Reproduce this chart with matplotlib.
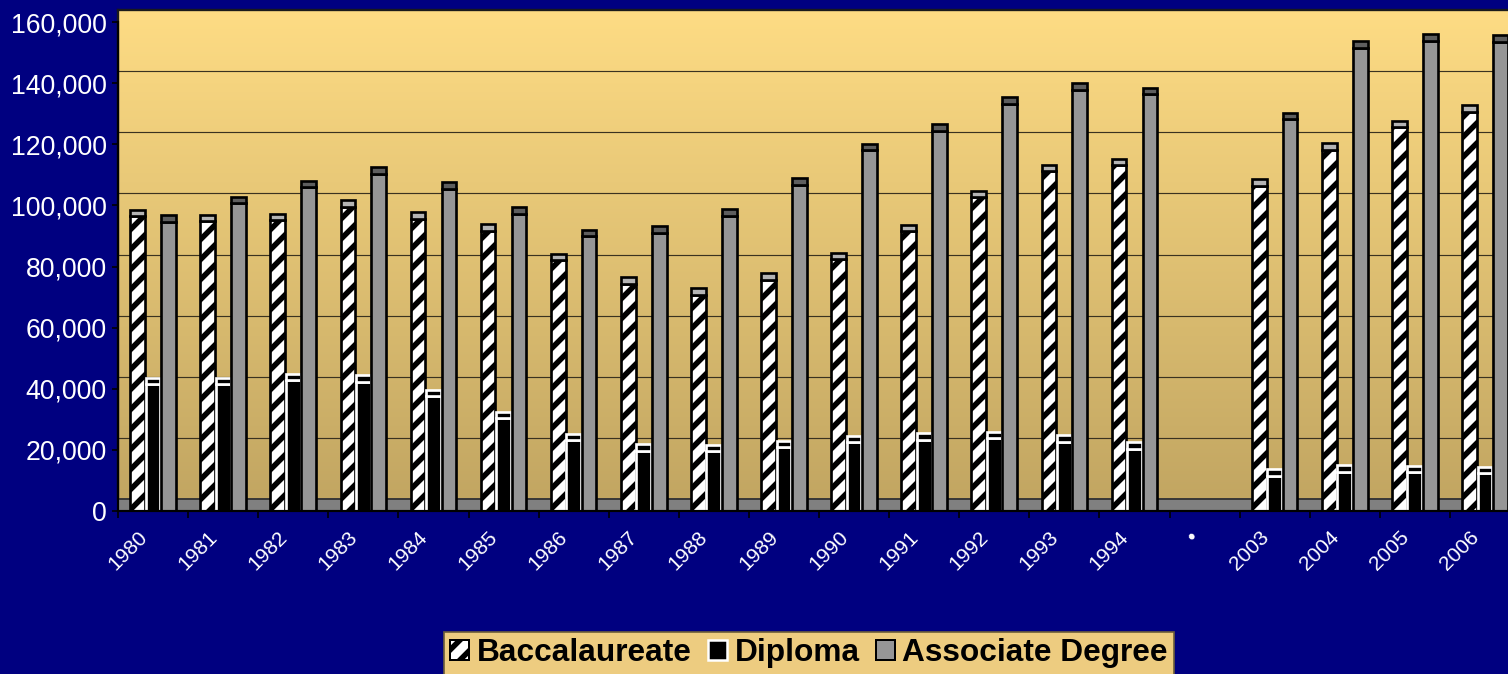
import numpy as np
import matplotlib.pyplot as plt
from matplotlib.patches import Patch
from matplotlib import transforms

# data
years = ["1980", "1981", "1982", "1983", "1984", "1985", "1986", "1987", "1988", "1989",
         "1990", "1991", "1992", "1993", "1994", "\u2022", "2003", "2004", "2005", "2006"]
nan = np.nan
bacc = [96500, 94800, 95200, 99600, 95600, 91700, 82100, 74300, 70800, 75600,
        82300, 91500, 102700, 111200, 113100, nan, 106400, 118200, 125500, 130600]
diploma = [41400, 41400, 42700, 42300, 37600, 30400, 23200, 19700, 19600, 20800,
           22500, 23300, 23800, 22700, 20300, nan, 11600, 12900, 12600, 12300]
assoc = [94700, 100700, 105900, 110300, 105400, 97300, 89900, 91000, 96600, 106700,
         118000, 124400, 133200, 137800, 136300, nan, 128200, 151600, 153800, 153600]

W, H, DPI = 1508, 674, 120
NAVY = "#000080"
plt.rcParams['font.family'] = ['Liberation Sans', 'DejaVu Sans']
plt.rcParams['hatch.linewidth'] = 3.3


def box(x0, y0, x1, y1):
    return [x0 / W, 1 - y1 / H, (x1 - x0) / W, (y1 - y0) / H]


fig = plt.figure(figsize=(W / DPI, H / DPI), dpi=DPI, facecolor=NAVY)

n = len(years)
x = np.arange(n)
ymax = 160000
upp = ymax / 489.0          # data units per pixel
cap = 6.5 * upp
floor = 12 * upp

# back wall with gradient and gridlines
wall = fig.add_axes(box(118, 10, 1520, 499), zorder=0)
grad = np.linspace(0, 1, 256)[:, None]
c_top = np.array([254, 220, 132]) / 255
c_bot = np.array([194, 166, 98]) / 255
img = c_top[None, None, :] * (1 - grad[:, :, None]) + c_bot[None, None, :] * grad[:, :, None]
wall.imshow(img, extent=[-0.5, n - 0.5, 0, ymax], aspect='auto', origin='upper')
wall.set_xlim(-0.5, n - 0.5)
wall.set_ylim(0, ymax)
for v in range(20000, ymax, 20000):
    wall.axhline(v, color="#3a3220", lw=0.7)
wall.set_xticks([])
wall.set_yticks([])
for s in ['right', 'bottom']:
    wall.spines[s].set_visible(False)
for s in ['left', 'top']:
    wall.spines[s].set_color("#1a1a1a")
    wall.spines[s].set_linewidth(1.4)

# front axes with bars
ax = fig.add_axes(box(118, 22, 1520, 511), zorder=1)
ax.patch.set_alpha(0)
ax.set_xlim(-0.5, n - 0.5)
ax.set_ylim(0, ymax)
ax.axhspan(0, floor, color="#808080", zorder=1)
ax.axhline(floor, color="#222222", lw=0.9, zorder=1.1)

bw = 0.21
off = 0.22
b = np.array(bacc)
d = np.array(diploma)
a = np.array(assoc)
ok = ~np.isnan(b)

ax.bar(x[ok] - off, b[ok], bw, color="white", edgecolor="black", hatch="//", lw=1.6, zorder=2)
ax.bar(x[ok] - off, cap, bw, bottom=b[ok], color="#b4b4b4", edgecolor="black", lw=1.6, zorder=2)
ax.bar(x[ok], d[ok], bw, color="black", edgecolor="white", lw=1.6, zorder=2)
ax.bar(x[ok], cap, bw, bottom=d[ok], color="black", edgecolor="white", lw=1.6, zorder=2)
ax.bar(x[ok] + off, a[ok], bw, color="#969696", edgecolor="black", lw=1.6, zorder=2)
ax.bar(x[ok] + off, cap, bw, bottom=a[ok], color="#5e5e5e", edgecolor="black", lw=1.6, zorder=2)

for s in ['right', 'top']:
    ax.spines[s].set_visible(False)
ax.spines['left'].set_color("black")
ax.spines['bottom'].set_color("black")
ax.spines['left'].set_linewidth(1.3)
ax.spines['bottom'].set_linewidth(1.3)

ax.set_yticks(range(0, ymax + 1, 20000))
ax.set_yticklabels([f"{v:,}" for v in range(0, ymax + 1, 20000)])
ax.tick_params(axis='y', colors="black", labelcolor="white", labelsize=16,
               length=3.6, width=1, pad=3)

ax.set_xticks(x)
ax.set_xticklabels(years, rotation=45, ha='right', va='center', rotation_mode='anchor')
ax.set_xticks(np.arange(n + 1) - 0.5, minor=True)
ax.tick_params(axis='x', which='major', length=0, labelcolor="white", labelsize=12.5, pad=14)
ax.tick_params(axis='x', which='minor', length=4.2, width=1, color="black")
shift = transforms.ScaledTranslation(-9 / DPI, 0, fig.dpi_scale_trans)
for lab in ax.get_xticklabels():
    lab.set_transform(lab.get_transform() + shift)

handles = [Patch(facecolor="white", edgecolor="black", hatch="//", lw=1.2),
           Patch(facecolor="black", edgecolor="white", lw=1.5),
           Patch(facecolor="#969696", edgecolor="black", lw=1.2)]
leg = fig.legend(handles, ["Baccalaureate", "Diploma", "Associate Degree"],
                 loc='upper center', bbox_to_anchor=(809 / W, 1 - 632 / H), ncol=3,
                 fancybox=False, borderaxespad=0, borderpad=0.2,
                 handlelength=0.6, handleheight=0.6, handletextpad=0.25,
                 columnspacing=0.5,
                 prop=dict(family=['Liberation Sans'], weight='bold', size=19))
leg.get_frame().set_facecolor("#EDCC80")
leg.get_frame().set_edgecolor("#6b5d3a")
leg.get_frame().set_linewidth(1)
leg.get_frame().set_alpha(1)

fig.savefig("out.png", dpi=DPI, facecolor=NAVY)
